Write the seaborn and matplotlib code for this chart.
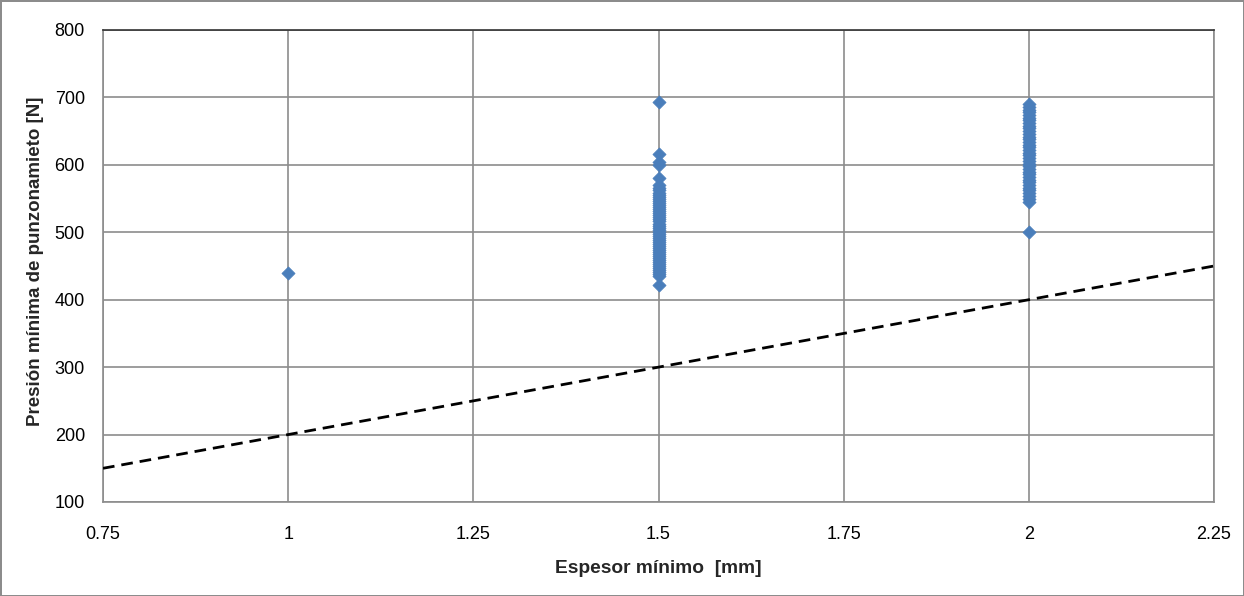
import matplotlib
matplotlib.use("Agg")
import matplotlib.pyplot as plt
import seaborn as sns
import pandas as pd

# Measured minimum punching pressure per minimum thickness
pressure_1_0 = [440]

pressure_1_5 = [693, 616, 604, 600, 580, 570, 566, 562, 558, 555, 552, 549, 546, 543,
                540, 537, 534, 531, 528, 525, 522, 519, 516, 513, 510, 507, 504, 501,
                498, 495, 492, 489, 486, 483, 480, 477, 474, 471, 468, 465, 462, 459,
                456, 453, 450, 447, 444, 441, 438, 435, 422]

pressure_2_0 = [690, 686, 682, 678, 674, 670, 666, 662, 658, 654, 650, 646, 642, 638,
                634, 630, 626, 622, 618, 614, 610, 606, 602, 598, 594, 590, 586, 582,
                578, 574, 570, 566, 562, 558, 554, 550, 545, 500]

# Reference requirement line: pressure = 200 N per mm of thickness
limit_thickness = [0.75, 2.25]
limit_pressure = [150, 450]

x_ticks = [0.75, 1.0, 1.25, 1.5, 1.75, 2.0, 2.25]
x_tick_labels = ["0.75", "1", "1.25", "1.5", "1.75", "2", "2.25"]
y_ticks = [100, 200, 300, 400, 500, 600, 700, 800]

points = pd.DataFrame({
    "espesor": [1.0] * len(pressure_1_0) + [1.5] * len(pressure_1_5) + [2.0] * len(pressure_2_0),
    "presion": pressure_1_0 + pressure_1_5 + pressure_2_0,
})
limit = pd.DataFrame({"espesor": limit_thickness, "presion": limit_pressure})

sns.set_style("white")
plt.rcParams["font.family"] = ["Liberation Sans", "DejaVu Sans"]

fig = plt.figure(figsize=(12.44, 5.96), dpi=100)
fig.patch.set_edgecolor("#8c8c8c")
fig.patch.set_linewidth(2)
ax = fig.add_axes([103 / 1244, 1 - 502 / 596, (1214 - 103) / 1244, (502 - 30) / 596])

ax.set_xlim(0.75, 2.25)
ax.set_ylim(100, 800)
ax.set_xticks(x_ticks)
ax.set_xticklabels(x_tick_labels)
ax.set_yticks(y_ticks)
ax.grid(True, color="#8c8c8c", linewidth=1.2)
ax.set_axisbelow(True)

sns.lineplot(data=limit, x="espesor", y="presion", ax=ax, color="black",
             linestyle=(0, (4.2, 2.5)), linewidth=2, zorder=3)
sns.scatterplot(data=points, x="espesor", y="presion", ax=ax, marker="D", s=45,
                color="#4A7EBB", edgecolor="#4A7EBB", linewidth=0.5, zorder=4)

for side in ["left", "bottom", "right"]:
    ax.spines[side].set_color("#8c8c8c")
    ax.spines[side].set_linewidth(1.2)
ax.spines["top"].set_color("#333333")
ax.spines["top"].set_linewidth(1.2)

ax.tick_params(axis="both", labelsize=13, length=0, colors="black")
ax.tick_params(axis="x", pad=17)
ax.tick_params(axis="y", pad=13)
ax.set_xlabel("Espesor mínimo  [mm]", fontsize=13.8, fontweight="bold")
ax.set_ylabel("Presión mínima de punzonamieto [N]", fontsize=13.5, fontweight="bold")
ax.xaxis.set_label_coords(0.5, -0.123)
ax.yaxis.set_label_coords(-0.053, 0.5106)

fig.savefig("out.png", dpi=100)
